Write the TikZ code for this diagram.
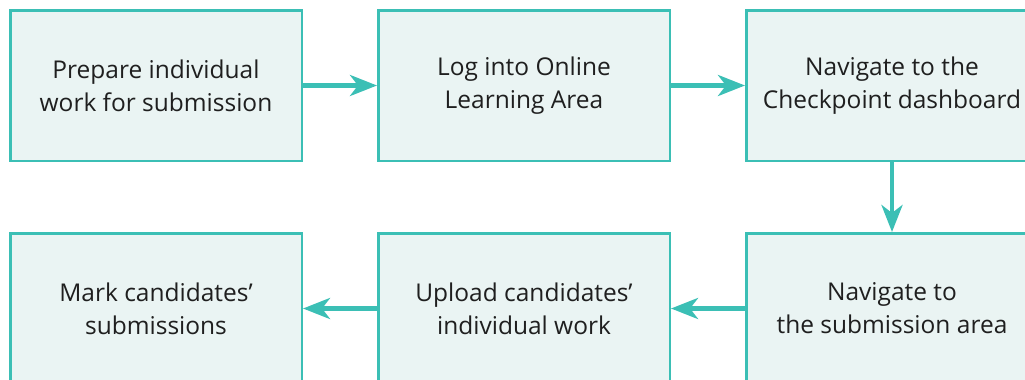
\documentclass[tikz,border=0pt]{standalone}
\usepackage{fontspec}
\setmainfont{Open Sans}
\usepackage{xcolor}
\usetikzlibrary{positioning, arrows.meta}
\definecolor{stepteal}{HTML}{3BBFB5}
\definecolor{stepfill}{HTML}{EAF4F3}

\begin{document}
\begin{tikzpicture}[x=1pt,y=-1pt,
  stepbox/.style={draw=stepteal, fill=stepfill, line width=2.5pt, minimum width=291.5pt, minimum height=150.5pt, align=center, font=\fontsize{24.5}{33}\selectfont, text=black!88, inner sep=0pt},
  flow/.style={stepteal, line width=4.5pt, -{Stealth[length=27pt,width=21pt,inset=8pt]}},
  node distance=70pt and 74pt]
\useasboundingbox (0,0) rectangle (1025,380); %page size

% top row
\node[stepbox] (prep) at (156,85.5) {Prepare individual\\work for submission};
\node[stepbox, right=of prep] (login) {Log into Online\\Learning Area};
\node[stepbox, right=of login] (dash) {Navigate to the\\Checkpoint dashboard};
% bottom row
\node[stepbox, below=of dash] (area) {Navigate to\\the submission area};
\node[stepbox, left=of area] (upload) {Upload candidates’\\individual work};
\node[stepbox, left=of upload] (mark) {Mark candidates’\\submissions};

\draw[flow] (prep) -- (login);
\draw[flow] (login) -- (dash);
\draw[flow] (dash) -- (area);
\draw[flow] (area) -- (upload);
\draw[flow] (upload) -- (mark);
\end{tikzpicture}
\end{document}
